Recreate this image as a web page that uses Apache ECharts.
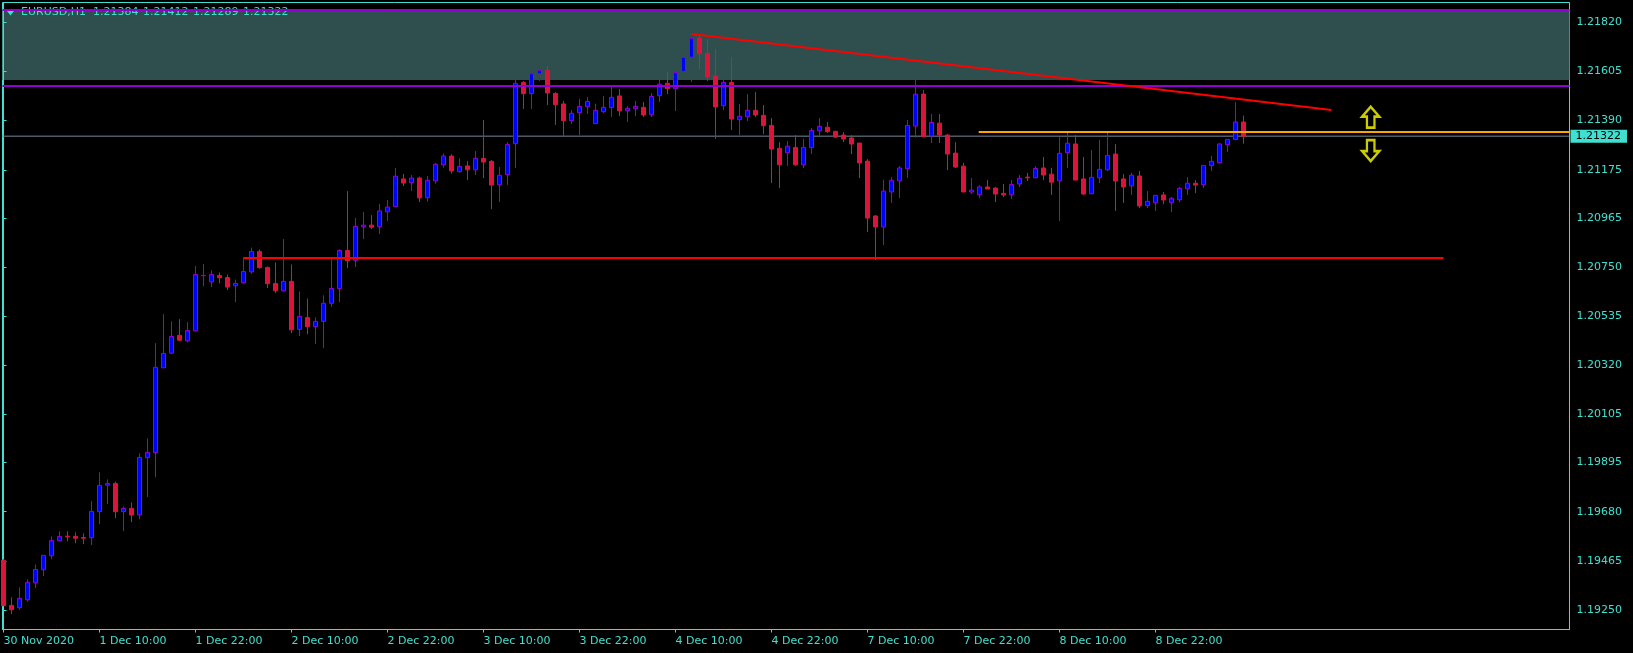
<!DOCTYPE html>
<html><head><meta charset="utf-8">
<style>html,body{margin:0;padding:0;background:#000}#c{width:1633px;height:653px}</style>
<script src="https://cdn.jsdelivr.net/npm/echarts@6/dist/echarts.min.js"></script>
</head><body><div id="c"></div>
<script>
const opens=[1.19468,1.19270,1.19260,1.19295,1.19369,1.19426,1.19487,1.19553,1.19573,1.19572,1.19567,1.19566,1.19680,1.19796,1.19803,1.19680,1.19694,1.19666,1.19916,1.19939,
1.20309,1.20373,1.20451,1.20427,1.20471,1.20712,1.20685,1.20713,1.20704,1.20668,1.20681,1.20729,1.20818,1.20748,1.20678,1.20646,1.20687,1.20477,1.20529,1.20489,
1.20512,1.20591,1.20656,1.20822,1.20779,1.20926,1.20933,1.20926,1.20991,1.21014,1.21135,1.21119,1.21139,1.21053,1.21127,1.21197,1.21235,1.21167,1.21192,1.21175,
1.21225,1.21212,1.21110,1.21154,1.21289,1.21557,1.21508,1.21595,1.21610,1.21509,1.21463,1.21390,1.21425,1.21451,1.21377,1.21429,1.21447,1.21498,1.21433,1.21442,
1.21448,1.21416,1.21499,1.21553,1.21530,1.21605,1.21667,1.21751,1.21684,1.21585,1.21455,1.21557,1.21394,1.21407,1.21435,1.21413,1.21369,1.21269,1.21250,1.21273,
1.21197,1.21272,1.21346,1.21361,1.21343,1.21327,1.21314,1.21292,1.21213,1.20973,1.20925,1.21078,1.21127,1.21180,1.21366,1.21506,1.21323,1.21379,1.21327,1.21248,
1.21191,1.21078,1.21066,1.21100,1.21095,1.21072,1.21066,1.21113,1.21143,1.21140,1.21183,1.21156,1.21127,1.21250,1.21288,1.21135,1.21070,1.21140,1.21175,1.21244,
1.21135,1.21105,1.21148,1.21018,1.21031,1.21065,1.21031,1.21044,1.21092,1.21116,1.21110,1.21193,1.21206,1.21285,1.21307,1.21384];
const closes=[1.19269,1.19251,1.19301,1.19371,1.19427,1.19489,1.19554,1.19572,1.19570,1.19564,1.19564,1.19681,1.19795,1.19803,1.19680,1.19694,1.19665,1.19917,1.19939,1.20311,
1.20372,1.20446,1.20430,1.20472,1.20717,1.20713,1.20717,1.20703,1.20662,1.20678,1.20730,1.20818,1.20747,1.20677,1.20646,1.20687,1.20475,1.20534,1.20489,1.20512,
1.20591,1.20656,1.20822,1.20777,1.20927,1.20933,1.20924,1.20995,1.21012,1.21147,1.21117,1.21139,1.21052,1.21129,1.21199,1.21235,1.21170,1.21190,1.21175,1.21225,
1.21209,1.21108,1.21151,1.21286,1.21553,1.21508,1.21595,1.21610,1.21511,1.21460,1.21390,1.21422,1.21452,1.21474,1.21435,1.21448,1.21492,1.21433,1.21444,1.21452,
1.21415,1.21496,1.21549,1.21530,1.21600,1.21667,1.21750,1.21683,1.21581,1.21450,1.21557,1.21397,1.21409,1.21435,1.21415,1.21368,1.21266,1.21197,1.21278,1.21197,
1.21273,1.21347,1.21365,1.21342,1.21318,1.21310,1.21288,1.21205,1.20964,1.20925,1.21082,1.21129,1.21183,1.21369,1.21506,1.21320,1.21382,1.21327,1.21244,1.21187,
1.21078,1.21086,1.21100,1.21091,1.21069,1.21065,1.21111,1.21138,1.21140,1.21181,1.21152,1.21121,1.21247,1.21291,1.21130,1.21069,1.21142,1.21177,1.21238,1.21126,
1.21100,1.21151,1.21017,1.21037,1.21063,1.21043,1.21050,1.21094,1.21116,1.21108,1.21194,1.21212,1.21288,1.21308,1.21384,1.21322];
const lows=[1.19269,1.19232,1.19251,1.19286,1.19346,1.19398,1.19472,1.19553,1.19551,1.19542,1.19538,1.19534,1.19626,1.19713,1.19652,1.19595,1.19634,1.19647,1.19744,1.19831,
1.20309,1.20369,1.20426,1.20421,1.20471,1.20666,1.20662,1.20679,1.20649,1.20596,1.20677,1.20720,1.20742,1.20658,1.20636,1.20642,1.20461,1.20448,1.20456,1.20413,
1.20395,1.20575,1.20596,1.20745,1.20750,1.20872,1.20916,1.20894,1.20951,1.21014,1.21104,1.21082,1.21034,1.21036,1.21114,1.21184,1.21158,1.21162,1.21130,1.21152,
1.21139,1.21003,1.21034,1.21108,1.21183,1.21441,1.21441,1.21563,1.21458,1.21371,1.21323,1.21375,1.21327,1.21419,1.21375,1.21423,1.21406,1.21410,1.21384,1.21410,
1.21406,1.21406,1.21471,1.21506,1.21432,1.21603,1.21559,1.21616,1.21563,1.21310,1.21436,1.21349,1.21327,1.21388,1.21406,1.21331,1.21117,1.21095,1.21192,1.21192,
1.21183,1.21244,1.21323,1.21336,1.21314,1.21296,1.21244,1.21139,1.20903,1.20780,1.20846,1.21030,1.21051,1.21139,1.21315,1.21318,1.21292,1.21292,1.21174,1.21183,
1.21078,1.21069,1.21051,1.21091,1.21034,1.21056,1.21047,1.21100,1.21126,1.21139,1.21130,1.21065,1.20951,1.21183,1.21130,1.21065,1.21069,1.21117,1.21170,1.20995,
1.21030,1.21065,1.21008,1.21008,1.20995,1.21025,1.20990,1.21034,1.21065,1.21073,1.21095,1.21170,1.21205,1.21253,1.21305,1.21289];
const highs=[1.19471,1.19305,1.19349,1.19384,1.19449,1.19489,1.19572,1.19594,1.19594,1.19589,1.19585,1.19726,1.19852,1.19821,1.19812,1.19703,1.19720,1.19935,1.20000,1.20417,
1.20544,1.20512,1.20522,1.20509,1.20754,1.20763,1.20735,1.20726,1.20717,1.20695,1.20792,1.20835,1.20827,1.20752,1.20770,1.20872,1.20761,1.20643,1.20612,1.20529,
1.20626,1.20784,1.20827,1.21082,1.20964,1.20990,1.20977,1.21025,1.21043,1.21183,1.21157,1.21152,1.21145,1.21148,1.21205,1.21247,1.21243,1.21225,1.21213,1.21257,
1.21393,1.21218,1.21187,1.21296,1.21611,1.21563,1.21684,1.21747,1.21629,1.21515,1.21476,1.21436,1.21485,1.21493,1.21464,1.21498,1.21541,1.21528,1.21454,1.21476,
1.21471,1.21511,1.21576,1.21603,1.21664,1.21734,1.21764,1.21760,1.21747,1.21703,1.21716,1.21667,1.21463,1.21506,1.21515,1.21458,1.21401,1.21296,1.21301,1.21327,
1.21310,1.21358,1.21401,1.21384,1.21346,1.21340,1.21327,1.21292,1.21222,1.20977,1.21130,1.21143,1.21191,1.21393,1.21664,1.21524,1.21419,1.21419,1.21331,1.21296,
1.21205,1.21139,1.21108,1.21130,1.21100,1.21113,1.21130,1.21152,1.21161,1.21191,1.21231,1.21183,1.21318,1.21336,1.21327,1.21231,1.21261,1.21305,1.21336,1.21288,
1.21156,1.21161,1.21170,1.21082,1.21065,1.21078,1.21056,1.21100,1.21143,1.21130,1.21194,1.21235,1.21292,1.21310,1.21471,1.21412];

const priceTicks=[1.21820,1.21605,1.21390,1.21175,1.20965,1.20750,1.20535,1.20320,1.20105,1.19895,1.19680,1.19465,1.19250];
const timeTicks=[0,12,24,36,48,60,72,84,96,108,120,132,144];
const timeLabels=['30 Nov 2020','1 Dec 10:00','1 Dec 22:00','2 Dec 10:00','2 Dec 22:00','3 Dec 10:00','3 Dec 22:00','4 Dec 10:00','4 Dec 22:00','7 Dec 10:00','7 Dec 22:00','8 Dec 10:00','8 Dec 22:00'];
const symbolName='EURUSD,H1';
const headerValues=['1.21384','1.21412','1.21289','1.21322'];
const lastPrice=1.21322;
const zoneTop=1.21874, zoneBottom=1.21568;
const purpleLevels=[1.21874,1.21541];
const orangeLine=[[121.9,1.21340],[195.75,1.21340]];
const redLevel=[[30,1.20789],[180,1.20789]];
const trendLine=[[86,1.21769],[166,1.21437]];
const arrowUp=[170.9,1.21405], arrowDown=[170.9,1.21259];

const AQUA='#40e0d0', FONT='"DejaVu Sans"';
const xMin=-0.125, xMax=195.75;
const candles=opens.map((o,i)=>[i,o,closes[i],lows[i],highs[i]]);
const lineSeries=(data,color,width,z,extra)=>Object.assign({type:'line',data,z,silent:true,symbol:'none',animation:false,lineStyle:{color,width,cap:'butt'}},extra||{});
const upPath='path://M26 0L52 32L37.5 32L37.5 68L14.5 68L14.5 32L0 32Z';
const downPath='path://M14.5 0L37.5 0L37.5 36L52 36L26 68L0 36L14.5 36Z';
const headerX=[93,143,193,243];

const chart=echarts.init(document.getElementById('c'),null,{renderer:'canvas'});
chart.setOption({
 animation:false,backgroundColor:'#000',
 grid:{left:2.5,top:2.5,width:1567,height:627,show:true,borderColor:AQUA,borderWidth:1,backgroundColor:'transparent',containLabel:false},
 xAxis:{type:'value',min:xMin,max:xMax,splitLine:{show:false},
  axisLine:{show:true,onZero:false,lineStyle:{color:AQUA}},
  axisTick:{show:true,length:3,inside:false,customValues:timeTicks,lineStyle:{color:AQUA}},
  axisLabel:{customValues:timeTicks,align:'left',margin:6,color:AQUA,fontFamily:FONT,fontSize:11,formatter:v=>timeLabels[timeTicks.indexOf(v)]||''}},
 yAxis:{type:'value',position:'right',min:1.191647,max:1.219066,scale:true,splitLine:{show:false},
  axisLine:{show:true,lineStyle:{color:AQUA}},
  axisTick:{show:true,length:3,customValues:priceTicks,lineStyle:{color:AQUA}},
  axisLabel:{customValues:priceTicks,margin:7,color:AQUA,fontFamily:FONT,fontSize:11,formatter:v=>v.toFixed(5)}},
 graphic:[
  {type:'group',z:2,silent:true,children:[
   {type:'polygon',z:2,silent:true,shape:{points:[[5.5,9],[15.5,9],[10.5,15.5]]},style:{fill:AQUA}},
   {type:'text',z:2,silent:true,x:21,y:7,style:{text:symbolName,fill:AQUA,font:'11px '+FONT}},
   ...headerValues.map((t,i)=>({type:'text',z:2,silent:true,x:headerX[i],y:7,style:{text:t,fill:AQUA,font:'11px '+FONT}}))
  ]}
 ],
 series:[
  lineSeries([[xMin,zoneTop],[xMax,zoneTop]],'transparent',0,0,{markArea:{z:0,silent:true,itemStyle:{color:'#2f4f4f',opacity:1},data:[[{xAxis:xMin,yAxis:zoneTop},{xAxis:xMax,yAxis:zoneBottom}]]}}),
  lineSeries([[xMin,lastPrice],[xMax,lastPrice]],'#778899',1,1,{endLabel:{show:true,distance:1,formatter:()=>lastPrice.toFixed(5),color:'#000',backgroundColor:AQUA,fontFamily:FONT,fontSize:11,padding:[1,6,1,5]}}),
  {type:'candlestick',z:2,data:candles,barWidth:5,silent:true,animation:false,clip:true,
   encode:{x:0,y:[1,2,3,4]},
   itemStyle:{color:'#0000ff',color0:'#dc143c',borderColor:'#9400d3',borderColor0:'#dc143c',borderWidth:1}},
  lineSeries([[xMin,purpleLevels[0]],[xMax,purpleLevels[0]]],'#9400d3',2,3),
  lineSeries([[xMin,purpleLevels[1]],[xMax,purpleLevels[1]]],'#9400d3',2,3),
  lineSeries(orangeLine,'#ffa500',2,3),
  lineSeries(redLevel,'#ff0000',2,3),
  lineSeries(trendLine,'#ff0000',2,3),
  {type:'scatter',z:4,silent:true,animation:false,symbol:upPath,symbolSize:[17,21],data:[arrowUp],itemStyle:{color:'transparent',borderColor:'#ffff00',borderWidth:2.5}},
  {type:'scatter',z:4,silent:true,animation:false,symbol:downPath,symbolSize:[17,21],data:[arrowDown],itemStyle:{color:'transparent',borderColor:'#ffff00',borderWidth:2.5}}
 ]
});
</script></body></html>
